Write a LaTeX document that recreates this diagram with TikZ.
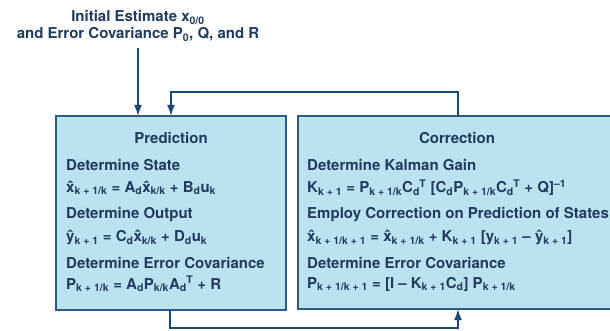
\documentclass[tikz,border=0pt]{standalone}
\usepackage{fontspec}
\setmainfont{TeX Gyre Heros}
\usetikzlibrary{arrows.meta}
\definecolor{boxfill}{HTML}{BAE3EF}
\definecolor{boxline}{HTML}{2D5C82}
\definecolor{txt}{HTML}{213B5E}
\definecolor{arr}{HTML}{1D4870}
\newcommand\sbb[1]{\textsubscript{#1}}
\newcommand\spp[1]{\textsuperscript{#1}}
\newcommand\sbsp[2]{\textsubscript{#1}\kern-0.5pt\textsuperscript{#2}}
\tikzset{
  box/.style={draw=boxline, line width=1.6pt, fill=boxfill, inner sep=0pt},
  lbl/.style={anchor=west, inner sep=0pt, text=txt, font=\fontsize{15}{18}\selectfont\bfseries},
  ttl/.style={inner sep=0pt, text=txt, font=\fontsize{15}{18}\selectfont\bfseries},
  conn/.style={draw=arr, line width=1.3pt},
  arrow/.style={conn, -{Latex[length=11pt,width=8pt]}}
}
\begin{document}
\begin{tikzpicture}[x=1pt,y=-1pt]
\useasboundingbox (0,0) rectangle (610,331);
% boxes
\draw[box] (56,116) rectangle (286,310);
\node[inner sep=0pt, minimum width=230pt, minimum height=194pt] (pred) at (171,213) {};
\draw[box] (298,116) rectangle (616,309);
\node[inner sep=0pt, minimum width=318pt, minimum height=193pt] (corr) at (457,212.5) {};
% top text
\node[ttl, align=center] (init) at (138,26) {Initial Estimate x\sbb{0/0}\\[-1pt]and Error Covariance P\sbb{0}, Q, and R};
% prediction text
\node[ttl] (ptitle) at (171,138) {Prediction};
\node[lbl] (p1) at (66,165) {Determine State};
\node[lbl] (p2) at (66,188) {\^{x}\sbb{k + 1/k} = A\sbb{d}\^{x}\sbb{k/k} + B\sbb{d}u\sbb{k}};
\node[lbl] (p3) at (66,215) {Determine Output};
\node[lbl] (p4) at (66,238) {\^{y}\sbb{k + 1} = C\sbb{d}\^{x}\sbb{k/k} + D\sbb{d}u\sbb{k}};
\node[lbl] (p5) at (66,263) {Determine Error Covariance};
\node[lbl] (p6) at (66,284) {P\sbb{k + 1/k} = A\sbb{d}P\sbb{k/k}A\sbsp{d}{T} + R};
% correction text
\node[ttl] (ctitle) at (457,138) {Correction};
\node[lbl] (c1) at (307,165) {Determine Kalman Gain};
\node[lbl] (c2) at (307,188) {K\sbb{k + 1} = P\sbb{k + 1/k}C\sbsp{d}{T} [C\sbb{d}P\sbb{k + 1/k}C\sbsp{d}{T} + Q]\spp{–1}};
\node[lbl] (c3) at (307,215) {Employ Correction on Prediction of States};
\node[lbl] (c4) at (307,238) {\^{x}\sbb{k + 1/k + 1} = \^{x}\sbb{k + 1/k} + K\sbb{k + 1} [y\sbb{k + 1} – \^{y}\sbb{k + 1}]};
\node[lbl] (c5) at (307,263) {Determine Error Covariance};
\node[lbl] (c6) at (307,284) {P\sbb{k + 1/k + 1} = [I – K\sbb{k + 1}C\sbb{d}] P\sbb{k + 1/k}};
% connectors
\coordinate (initend) at (138,48);
\draw[arrow] (initend) -- (initend |- pred.north);
\coordinate (topturn) at (171,92);
\draw[arrow] (corr.north -| 458,0) |- (topturn) -- (topturn |- pred.north);
\coordinate (botturn) at (170,328);
\draw[arrow] (pred.south -| botturn) -- (botturn) -| (corr.south -| 458,0);
\end{tikzpicture}
\end{document}
